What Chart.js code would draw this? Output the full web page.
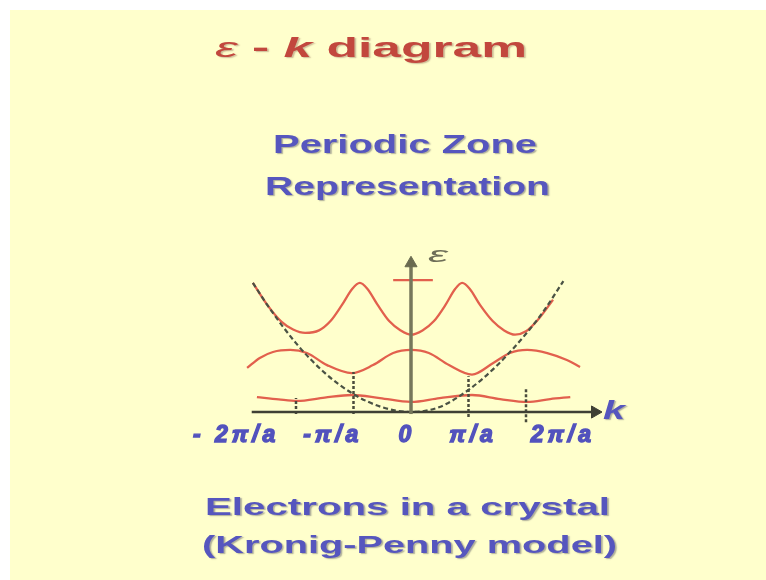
<!DOCTYPE html>
<html>
<head>
<meta charset="utf-8">
<title>ε - k diagram</title>
<script src="https://cdn.jsdelivr.net/npm/chart.js@4.4.1/dist/chart.umd.min.js"></script>
<style>
  html, body { margin: 0; padding: 0; background: #ffffff; width: 766px; height: 580px; overflow: hidden; }
  #slide { position: absolute; left: 10px; top: 10px; width: 756px; height: 570px; background: #ffffcc; }
  #plot { position: absolute; left: 0; top: 0; }
  .txt { position: absolute; white-space: pre; line-height: 1; font-family: "Liberation Sans", Arial, sans-serif;
         font-weight: bold; transform-origin: 0 0; }
  .blue { color: #5656be; text-shadow: 1px 1px 1px rgba(70, 70, 90, 0.45); }
  .red  { color: #c2473d; text-shadow: 1px 1px 1px rgba(110, 60, 50, 0.35); }
  .axisname { font-style: italic; }
</style>
</head>
<body>
<div id="slide"></div>
<canvas id="plot" width="766" height="580"></canvas>

<div class="txt red" style="left:215px; top:34px; font-size:28px" data-w="312"><i style="font-weight:normal">ε</i> - <i>k</i> diagram</div>
<div class="txt blue" style="left:273px; top:132px; font-size:25px" data-w="264">Periodic Zone</div>
<div class="txt blue" style="left:265px; top:174px; font-size:25px" data-w="285">Representation</div>
<div class="txt blue" style="left:205px; top:495px; font-size:24px" data-w="405">Electrons in a crystal</div>
<div class="txt blue" style="left:202px; top:533px; font-size:24px" data-w="415">(Kronig-Penny model)</div>
<div class="txt blue axisname" style="left:603px; top:397px; font-size:26px" data-w="22">k</div>
<div class="txt axisname" style="left:428px; top:244px; font-size:22px; font-weight:normal; color:#6e6e58" data-w="20">ε</div>

<script>
// k in units of π/a, energy in units where the free-electron curve is ε ≈ k²
const kTicks = [-2, -1, 0, 1, 2];
const tickLabels = ['- 2π/a', '-π/a', '0', 'π/a', '2π/a'];

// free-electron parabola (dashed)
const freeK = [-2.75, -2.5, -2.0, -1.5, -1.0, -0.5, 0, 0.5, 1.0, 1.5, 2.0, 2.3, 2.65];
const freeE = [7.6, 6.3, 4.05, 2.3, 1.05, 0.28, 0, 0.3, 1.3, 2.75, 4.6, 5.9, 7.7];

// first band
const lowerK = [-2.68, -2.3, -1.98, -1.5, -1.03, -0.54, 0, 0.5, 1.06, 1.55, 2.02, 2.42, 2.77];
const lowerE = [0.88, 0.74, 0.65, 0.85, 1.0, 0.82, 0.59, 0.82, 1.0, 0.76, 0.59, 0.76, 0.88];

// second band
const middleK = [-2.85, -2.63, -2.4, -2.1, -1.81, -1.46, -1.03, -0.66, -0.31, 0, 0.31, 0.66, 1.06, 1.43, 1.72, 2.02, 2.37, 2.71, 2.94];
const middleE = [2.59, 3.18, 3.53, 3.65, 3.47, 2.76, 2.29, 2.76, 3.47, 3.65, 3.47, 2.76, 2.2, 2.88, 3.47, 3.65, 3.47, 3.06, 2.65];

// third band
const upperK = [-2.75, -2.5, -2.25, -2.05, -1.84, -1.6, -1.4, -1.2, -1.02, -0.89, -0.76, -0.58, -0.38, -0.18, 0,
                0.2, 0.4, 0.6, 0.77, 0.89, 1.02, 1.2, 1.42, 1.62, 1.81, 2.0, 2.2, 2.47];
const upperE = [7.59, 6.3, 5.3, 4.85, 4.65, 4.8, 5.35, 6.3, 7.25, 7.59, 7.25, 6.3, 5.35, 4.8, 4.55,
                4.8, 5.35, 6.3, 7.25, 7.59, 7.25, 6.3, 5.35, 4.8, 4.55, 4.75, 5.4, 6.6];

// short level mark at the top of the energy axis
const capK = [-0.31, 0.38];
const capE = [7.76, 7.76];

// dashed zone-boundary markers
const markerK = [-2, -1, 1, 2];
const markerTop = [0.82, 2.35, 2.1, 1.35];
const markerBottom = [-0.12, -0.12, -0.3, -0.6];

// axis extents
const kAxisK = [-2.77, 3.2];
const eAxisE = [-0.12, 8.75];

const pts = (xs, ys) => xs.map((x, i) => ({ x, y: ys[i] }));
const RED = '#e2604d';
const DARK = '#3f4034';

const markerSets = markerK.map((k, i) => ({
  data: [{ x: k, y: markerBottom[i] }, { x: k, y: markerTop[i] }],
  borderColor: '#4a4b3c', borderWidth: 2.5, borderDash: [3, 2], pointRadius: 0
}));

// tick labels sit centred under the axis at these k positions
const labelCentres = [-3.04, -1.36, -0.07, 1.08, 2.64];

const wideLabels = {
  id: 'wideLabels',
  beforeDraw(chart) { chart.ctx.letterSpacing = '4px'; },
  afterDraw(chart) { chart.ctx.letterSpacing = '0px'; }
};

new Chart(document.getElementById('plot'), {
  type: 'line',
  data: {
    datasets: [
      { // energy axis with arrow head
        data: [{ x: 0, y: eAxisE[0] }, { x: 0, y: eAxisE[1] }],
        borderColor: '#76775b', borderWidth: 3.5,
        pointRadius: [0, 7], pointStyle: 'triangle', pointRotation: 0,
        pointBackgroundColor: '#6a6b50', pointBorderColor: '#6a6b50', pointBorderWidth: 1
      },
      { // k axis with arrow head
        data: [{ x: kAxisK[0], y: 0 }, { x: kAxisK[1], y: 0 }],
        borderColor: DARK, borderWidth: 2.5,
        pointRadius: [0, 7], pointStyle: 'triangle', pointRotation: 90,
        pointBackgroundColor: DARK, pointBorderColor: DARK, pointBorderWidth: 1
      },
      {
        data: pts(freeK, freeE), borderColor: '#4a5244', borderWidth: 2.2, borderDash: [5, 3],
        pointRadius: 0, cubicInterpolationMode: 'monotone'
      },
      ...markerSets,
      { data: pts(capK, capE), borderColor: RED, borderWidth: 2.3, pointRadius: 0 },
      { data: pts(upperK, upperE), borderColor: RED, borderWidth: 2.3, pointRadius: 0, cubicInterpolationMode: 'monotone' },
      { data: pts(middleK, middleE), borderColor: RED, borderWidth: 2.3, pointRadius: 0, cubicInterpolationMode: 'monotone' },
      { data: pts(lowerK, lowerE), borderColor: RED, borderWidth: 2.3, pointRadius: 0, cubicInterpolationMode: 'monotone' }
    ]
  },
  options: {
    responsive: false,
    animation: false,
    events: [],
    layout: { padding: 0, autoPadding: false },
    plugins: { legend: { display: false }, tooltip: { enabled: false }, title: { display: false } },
    elements: { line: { fill: false } },
    scales: {
      x: { type: 'linear', display: false, min: -7.1478, max: 6.1739 },
      y: { type: 'linear', display: false, min: -9.882, max: 24.235 },
      kLabels: {
        type: 'linear', axis: 'x', position: { y: -0.72 },
        min: -7.1478, max: 6.1739,
        grid: { display: false, drawTicks: false },
        border: { display: false },
        afterBuildTicks: (scale) => { scale.ticks = labelCentres.map(v => ({ value: v })); },
        ticks: {
          autoSkip: false, maxRotation: 0, minRotation: 0, padding: 0,
          color: '#5252bd',
          textStrokeColor: '#5252bd', textStrokeWidth: 1.4,
          font: { family: '"Liberation Sans", Arial, sans-serif', size: 23, style: 'italic', weight: 'bold', lineHeight: 1 },
          callback: (value, index) => tickLabels[index]
        }
      }
    }
  },
  plugins: [wideLabels]
});

// widen the slide captions to their set widths
document.querySelectorAll('.txt[data-w]').forEach(el => {
  const w = el.getBoundingClientRect().width;
  el.style.transform = 'scaleX(' + (Number(el.dataset.w) / w).toFixed(4) + ')';
});
</script>
</body>
</html>
